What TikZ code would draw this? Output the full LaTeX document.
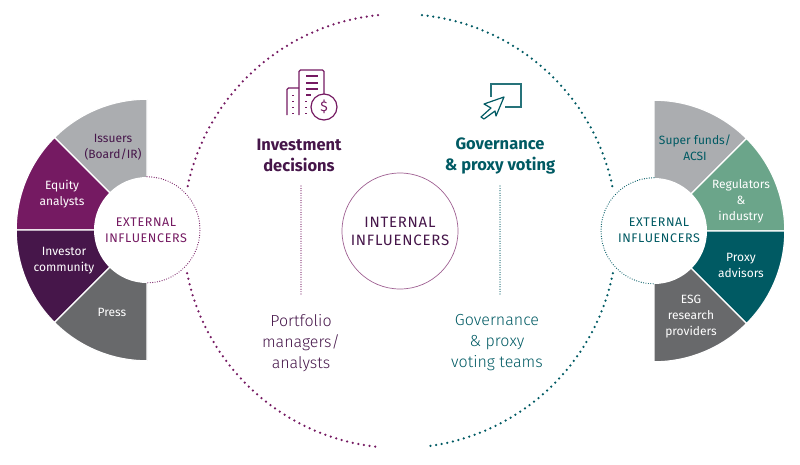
\documentclass[tikz,border=0pt]{standalone}
\usepackage{fontspec}
\setmainfont{Fira Sans}
\newfontfamily\lightfont{Fira Sans Light}
\usetikzlibrary{calc}
\definecolor{ef-purple}{HTML}{751A62}
\definecolor{ef-plum}{HTML}{46164A}
\definecolor{ef-grey}{HTML}{ABADB0}
\definecolor{ef-slate}{HTML}{68696B}
\definecolor{ef-green}{HTML}{6BA58A}
\definecolor{ef-teal}{HTML}{005A63}
\tikzset{bigdots/.style={line width=2.5pt,dash pattern=on 0pt off 5.7pt,line cap=round}}
\tikzset{smalldots/.style={line width=1.2pt,dash pattern=on 0pt off 2.4pt,line cap=round}}
\newcommand{\ringsector}[4]{\fill[#4,draw=white,line width=1.2pt] (#1) -- ($(#1)+(#2:130.8)$) arc[start angle=#2,end angle=#3,radius=130.8] -- cycle;}
\begin{document}
\begin{tikzpicture}[x=1pt,y=-1pt,font=\fontsize{12}{16}\selectfont]
  \tikzset{
    sector/.style={text=white,align=center,inner sep=0pt},
    hub/.style={circle,fill=white,minimum size=106pt,inner sep=0pt},
    hubtext/.style={align=center,inner sep=0pt,font=\fontsize{12.5}{16}\selectfont\addfontfeature{LetterSpace=5}},
    heading/.style={align=center,inner sep=0pt,font=\fontsize{16.5}{21}\selectfont\bfseries},
    team/.style={align=center,inner sep=0pt,font=\fontsize{16}{21}\selectfont\lightfont}
  }
  \useasboundingbox (0,0) rectangle (800,464);

  % Large dotted circle, split into purple and teal halves
  \coordinate (mid) at (400,231);
  \draw[bigdots,ef-purple] ($(mid)+(264.2:217)$) arc[start angle=264.2,end angle=191.2,radius=217];
  \draw[bigdots,ef-purple] ($(mid)+(168.8:217)$) arc[start angle=168.8,end angle=95.8,radius=217];
  \draw[bigdots,ef-teal] ($(mid)+(275.8:217)$) arc[start angle=275.8,end angle=348.8,radius=217];
  \draw[bigdots,ef-teal] ($(mid)+(11.2:217)$) arc[start angle=11.2,end angle=83.2,radius=217];

  % Left ring
  \coordinate (leftc) at (147,230);
  \ringsector{leftc}{225}{270}{ef-grey}
  \ringsector{leftc}{180}{225}{ef-purple}
  \ringsector{leftc}{135}{180}{ef-plum}
  \ringsector{leftc}{90}{135}{ef-slate}
  \node (lefthub) [hub] at (leftc) {};
  \draw[smalldots,ef-purple] (lefthub.north) arc[start angle=-90,end angle=90,radius=53];
  \node (lefttext) [hubtext,text=ef-purple] at (146,230) {EXTERNAL\\INFLUENCERS};
  \node (issuers) [sector,text=ef-plum] at (113,147) {Issuers\\(Board/IR)};
  \node (equity) [sector] at (62,194) {Equity\\analysts};
  \node (community) [sector] at (64,261) {Investor\\community};
  \node (press) [sector] at (112,312) {Press};

  % Right ring
  \coordinate (rightc) at (654,231);
  \ringsector{rightc}{270}{315}{ef-grey}
  \ringsector{rightc}{315}{360}{ef-green}
  \ringsector{rightc}{0}{45}{ef-teal}
  \ringsector{rightc}{45}{90}{ef-slate}
  \node (righthub) [hub] at (rightc) {};
  \draw[smalldots,ef-teal] (righthub.north) arc[start angle=-90,end angle=-270,radius=53];
  \node (righttext) [hubtext,text=ef-teal] at (659,230) {EXTERNAL\\INFLUENCERS};
  \node (super) [sector,text=ef-teal] at (695,148) {Super funds/\\ACSI};
  \node (regulators) [sector] at (741,201) {Regulators\\\&\\industry};
  \node (proxy) [sector] at (741,265) {Proxy\\advisors};
  \node (esg) [sector] at (691,317) {ESG\\research\\providers};

  % Centre
  \node (internal) [circle,draw=ef-purple!70,line width=0.7pt,minimum size=116pt,inner sep=0pt,align=center,text=ef-plum,font=\fontsize{15}{18}\selectfont\addfontfeature{LetterSpace=5}] at (400,231) {INTERNAL\\INFLUENCERS};
  \node (invest) [heading,text=ef-plum] at (299,155.5) {Investment\\decisions};
  \node (govern) [heading,text=ef-teal] at (500,155.5) {Governance\\\& proxy voting};
  \node (portfolio) [team,text=ef-plum] at (301,343) {Portfolio\\managers/\\analysts};
  \node (teams) [team,text=ef-teal] at (497,343) {Governance\\\& proxy\\voting teams};
  \coordinate (investend) at (301,186);
  \coordinate (portfolioend) at (301,295);
  \coordinate (governend) at (500,186);
  \coordinate (teamsend) at (500,295);
  \draw[smalldots,ef-purple] (investend) -- (portfolioend);
  \draw[smalldots,ef-teal] (governend) -- (teamsend);

  % Building icon
  \draw[ef-purple,line width=1.1pt,rounded corners=1.5pt] (299,115) -- (299,70) -- (324,70) -- (324,94);
  \draw[ef-purple,line width=1.1pt,rounded corners=1.5pt] (287,115) -- (287,88) -- (299,88);
  \draw[ef-purple,line width=1.2pt] (306,76) -- (318,76) (306,83) -- (318,83) (306,89) -- (318,89) (306,95) -- (311,95);
  \draw[ef-purple,line width=1.3pt,dash pattern=on 1.3pt off 4.7pt] (293,95) -- (293,115) (306,101) -- (306,115);
  \draw[ef-purple,line width=1.2pt,fill=white] (324,107) circle[radius=13];
  \node (dollar) [inner sep=0pt,text=ef-purple,font=\fontsize{14}{14}\selectfont] at (324,107) {\$};

  % Cursor icon
  \draw[ef-teal!85,line width=1.3pt] (491,97) -- (491,84) -- (521,84) -- (521,107) -- (505,107);
  \draw[ef-teal,line width=1.2pt,fill=white,line join=round] (504,97) -- (484,104) -- (491,108) -- (481,117) -- (484,119) -- (495,111) -- (496,116) -- cycle;
\end{tikzpicture}
\end{document}
